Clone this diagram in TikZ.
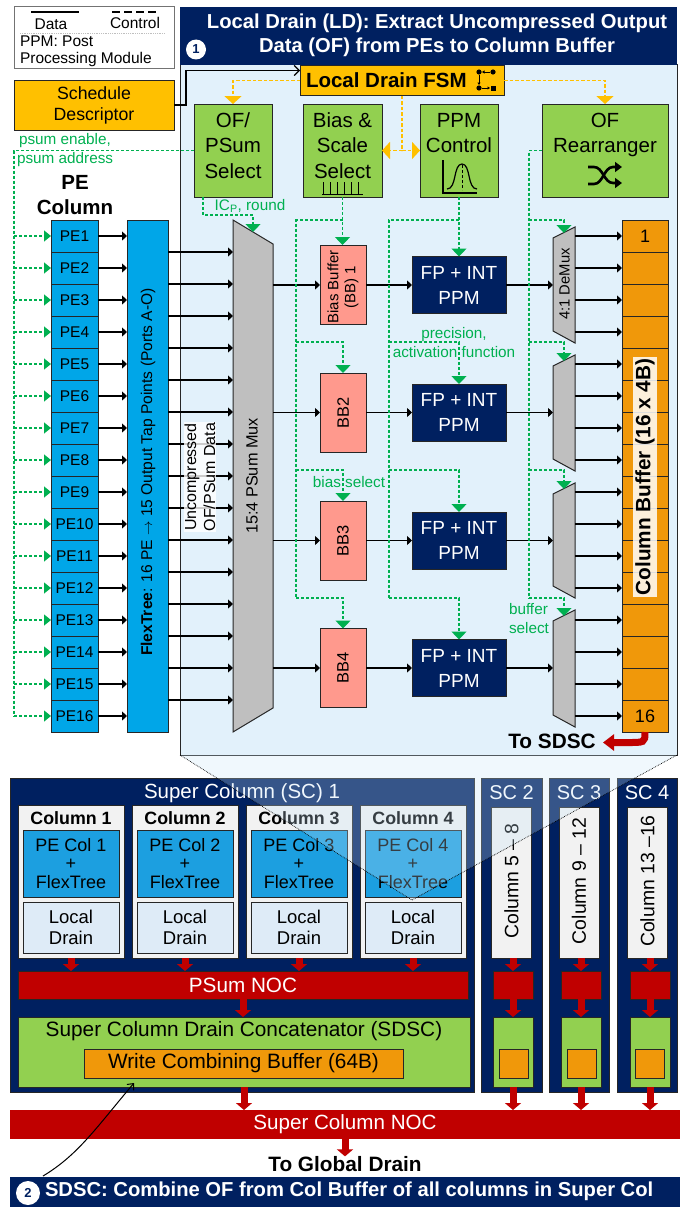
\documentclass[tikz,border=0pt]{standalone}
\usepackage{fontspec}
\setmainfont{Liberation Sans}
\setsansfont{Liberation Sans}
\usetikzlibrary{calc,arrows.meta}
\definecolor{navy}{HTML}{002060}
\definecolor{lsky}{HTML}{E2F1FB}
\definecolor{amber}{HTML}{FFC000}
\definecolor{lime}{HTML}{92D050}
\definecolor{ggrn}{HTML}{00B050}
\definecolor{pblue}{HTML}{00A6E8}
\definecolor{cblue}{HTML}{1C9FE0}
\definecolor{dblue}{HTML}{DEEBF7}
\definecolor{salmon}{HTML}{FF998D}
\definecolor{mgrey}{HTML}{BFBFBF}
\definecolor{lgrey}{HTML}{F2F2F2}
\definecolor{ornge}{HTML}{F0980A}
\definecolor{noc}{HTML}{C00000}
\definecolor{edge}{HTML}{262626}
\tikzset{
  base/.style   ={inner sep=0pt, outer sep=0pt, align=center, text=black},
  box/.style    ={base, draw=edge, line width=1pt},
  ctl/.style    ={box, fill=lime, font=\fontsize{20.5}{25.5}\selectfont},
  peb/.style    ={box, fill=pblue, minimum width=47pt, minimum height=32pt, font=\fontsize{15.5}{17}\selectfont},
  cell/.style   ={box, fill=ornge, minimum width=46pt, minimum height=32pt, font=\fontsize{18}{20}\selectfont},
  bbuf/.style   ={box, fill=salmon, minimum width=46pt, minimum height=79pt},
  ppm/.style    ={box, fill=navy, text=white, minimum width=94pt, minimum height=57pt, font=\fontsize{19}{25}\selectfont},
  shell/.style  ={base, fill=navy, draw=edge, line width=.6pt},
  colbg/.style  ={box, fill=lgrey, line width=.8pt},
  nocb/.style   ={base, fill=noc, draw=edge, line width=.5pt, text=white},
  grnb/.style   ={box, fill=lime},
  wcb/.style    ={box, fill=ornge},
  shape2/.style ={draw=edge, line width=1pt, fill=mgrey},
  rot/.style    ={base, rotate=90},
  ttl/.style    ={base, text=white, font=\fontsize{20.5}{22}\selectfont},
  num/.style    ={base, circle, fill=white, text=navy, font=\bfseries\fontsize{13}{15}\selectfont},
  lab/.style    ={base, text=ggrn, font=\fontsize{15.3}{19}\selectfont},
  data/.style   ={-{Triangle[length=5pt,width=9pt]}, line width=1.2pt, draw=black},
  ctrlg/.style  ={draw=ggrn, line width=1.3pt, dash pattern=on 3pt off 2pt},
  ctrlgt/.style ={ctrlg, -{Triangle[length=8pt,width=15pt]}},
  ctrlgh/.style ={ctrlg, -{Triangle[length=7pt,width=11pt]}},
  ctrly/.style  ={draw=amber, line width=1.8pt, dash pattern=on 3.5pt off 2pt},
  ctrlyt/.style ={ctrly, -{Triangle[length=8pt,width=17pt]}},
  redarr/.style ={draw=noc, line width=7pt, -{Triangle[length=7pt,width=16pt]}},
  link/.style   ={line width=1.2pt, -{Straight Barb[length=5pt,width=10pt]}},
  zoomln/.style ={draw=black, line width=.7pt, densely dotted},
}
\begin{document}
\begin{tikzpicture}[x=1pt,y=-1pt]
  \useasboundingbox (0,0) rectangle (694,1207);

  % ---- legend ----
  \node[base, draw=black!55, line width=1pt, minimum width=160pt, minimum height=62pt, fill=white] (legend) at (94,38) {};
  \draw[line width=1.2pt] (31,12) -- (79,12);
  \draw[line width=1.2pt, dash pattern=on 8pt off 4pt] (112,12) -- (156,12);
  \node[base, font=\fontsize{15.5}{17}\selectfont] (lgdata) at (51,24) {Data};
  \node[base, font=\fontsize{15.5}{17}\selectfont] (lgctrl) at (135,23) {Control};
  \draw[black!25, line width=.8pt, densely dotted] (20,33) -- (165,33);
  \node[base, anchor=west, align=left, font=\fontsize{15.5}{17}\selectfont] (lgppm) at (20,51) {PPM: Post\\Processing Module};

  % ---- local drain panel ----
  \node[base, draw=edge, line width=1pt, fill=lsky, minimum width=497pt, minimum height=690pt] (ldbox) at (428.5,410) {};
  \node[base, fill=navy, minimum width=497pt, minimum height=58pt] (ldhead) at (428.5,36) {};
  \node[base, text=white, font=\bfseries\fontsize{20.2}{24.5}\selectfont] (ldtext) at (437,35.5)
      {Local Drain (LD): Extract Uncompressed Output\\Data (OF) from PEs to Column Buffer};
  \node[num, minimum size=20pt] (num1) at (196,49.5) {1};

  % ---- control row ----
  \node[box, fill=amber, minimum width=160pt, minimum height=50pt, font=\fontsize{17.7}{21}\selectfont] (sched) at (94,105) {Schedule\\Descriptor};
  \node[box, fill=amber, minimum width=204pt, minimum height=30pt] (fsm) at (402,80.5) {};
  \node[base, anchor=west, font=\bfseries\fontsize{20.5}{22}\selectfont] (fsmtxt) at (306,80.5) {Local Drain FSM};
  \node[ctl, minimum width=78pt, minimum height=93pt, text depth=10pt] (ofsel) at (233,150.5) {OF/\\PSum\\Select};
  \node[ctl, minimum width=79pt, minimum height=93pt, text depth=10pt] (bias) at (342.5,150.5) {Bias \&\\Scale\\Select};
  \node[ctl, minimum width=78pt, minimum height=93pt, text depth=35pt] (ppmc) at (459,150.5) {PPM\\Control};
  \node[ctl, minimum width=126pt, minimum height=93pt, text depth=35pt] (rearr) at (605,150.5) {OF\\Rearranger};

  % fsm icon
  \foreach \x/\y in {479/72,493/72,479/88} \fill (\x,\y) circle (2.6);
  \fill (490.5,85.5) rectangle (496,91);
  \draw[line width=.7pt, -{Triangle[length=2.5pt,width=3pt]}] (490,72) -- (482,72);
  \draw[line width=.7pt, -{Triangle[length=2.5pt,width=3pt]}] (479,75) -- (479,85);
  \draw[line width=.7pt, -{Triangle[length=2.5pt,width=3pt]}] (482,88) -- (490,88);
  % comb
  \draw[line width=.8pt] (322,194) -- (363,194);
  \foreach \x in {323,330,337,344,351,358} \draw[line width=.8pt] (\x,182) -- (\x,194);
  % bell
  \draw[line width=2pt] (442.5,160) -- (442.5,193) -- (477,193);
  \draw[line width=1.2pt] (447,189) .. controls (457,189) and (453,164) .. (462,164) .. controls (471,164) and (467,189) .. (477,189);
  \draw[line width=.5pt, densely dashed] (462,165) -- (462,190);
  % shuffle
  \draw[line width=2.6pt, -{Triangle[length=7pt,width=10pt]}] (588,184) -- (594,184) .. controls (603,184) and (604,167) .. (613,167) -- (622,167);
  \draw[line width=2.6pt, -{Triangle[length=7pt,width=10pt]}] (588,167) -- (594,167) .. controls (603,167) and (604,183) .. (613,183) -- (622,183);

  % ---- pe column and flextree ----
  \node[base, font=\bfseries\fontsize{20.5}{25}\selectfont] (pecol) at (75,195.5) {PE\\Column};
  \foreach \i in {1,...,16} {
    \node[peb] (pe\i) at (74.5,{204+32*\i}) {PE\i};
  }
  \node[box, fill=pblue, minimum width=41pt, minimum height=512pt] (ft) at (147.5,476) {};
  \node[rot, font=\fontsize{15.6}{17}\selectfont] (fttxt) at (148,472)
      {\textbf{FlexTree}: 16 PE $\rightarrow$ 15 Output Tap Points (Ports A-O)};

  % ---- psum mux ----
  \node[base, minimum width=40pt, minimum height=512pt] (mux) at (253,476) {};
  \draw[shape2] (233,220) -- (273,244) -- (273,708) -- (233,732) -- cycle;
  \node[rot, font=\fontsize{16.3}{18}\selectfont] (muxtxt) at (252,476) {15:4 PSum Mux};
  \foreach \i in {1,...,16} \draw[data] (pe\i.east) -- (pe\i.east -| ft.west);
  \foreach \i in {1,...,15} \draw[data] (pe\i.south -| ft.east) -- (pe\i.south -| mux.west);
  \node[rot, fill=white, fill opacity=.8, text opacity=1, inner sep=1pt, font=\fontsize{16}{19}\selectfont] (unc) at (200,477) {Uncompressed\\OF/PSum Data};

  % ---- bias buffers, ppm ----
  \node[bbuf] (bb1) at (343,284.5) {};
  \node[rot, font=\fontsize{15}{17}\selectfont] (bb1t) at (343,287) {Bias Buffer\\(BB) 1};
  \foreach \n/\y in {2/412.5,3/540.5,4/668} {
    \node[bbuf, font=\fontsize{16.5}{18}\selectfont] (bb\n) at (343,\y) {\rotatebox{90}{BB\n}};
  }
  \foreach \n/\y in {1/285,2/412.5,3/540.5,4/668} {
    \node[ppm] (ppm\n) at (459,\y) {FP + INT\\PPM};
    \draw[data] (bb\n.east |- ppm\n.west) -- (ppm\n.west);
    \draw[data] (mux.east |- ppm\n.west) -- (bb\n.west |- ppm\n.west);
  }

  % ---- demux and column buffer ----
  \foreach \i in {1,...,16} {
    \node[cell] (cb\i) at (645,{204+32*\i}) {};
  }
  \node[base, font=\fontsize{18}{20}\selectfont] (cb1n) at (cb1) {1};
  \node[base, font=\fontsize{18}{20}\selectfont] (cb16n) at (cb16) {16};
  \foreach \n/\t/\b in {1/227/343,2/355/471,3/483/598,4/610/727} {
    \node[base, minimum width=22pt, minimum height={\b-\t}] (dm\n) at (564,{(\t+\b)/2}) {};
    \draw[shape2] (553,\t+11) -- (575,\t) -- (575,\b) -- (553,\b-12) -- cycle;
    \coordinate (dmt\n) at (564,\t+6);
    \draw[data] (ppm\n.east) -- (ppm\n.east -| dm\n.west);
  }
  \node[rot, font=\fontsize{14.8}{16}\selectfont] (dmtxt) at (564.5,284) {4:1 DeMux};
  \foreach \i [evaluate=\i as \d using int((\i+3)/4)] in {1,...,16}
    \draw[data] (cb\i.west -| dm\d.east) -- (cb\i.west);
  \node[rot, fill=white, fill opacity=.85, text opacity=1, inner sep=2pt, font=\bfseries\fontsize{20.8}{22}\selectfont] (cbtxt) at (645,477) {Column Buffer (16 x 4B)};
  \node[base, font=\bfseries\fontsize{20.8}{22}\selectfont] (tosdsc) at (552,741) {To SDSC};
  \coordinate (sdsctip) at (603,742.5);
  \draw[noc, line width=7pt, -{Triangle[length=11pt,width=16pt]}] (cb16.south) .. controls (645,743) and (645,742.5) .. (625,742.5) -- (sdsctip);

  % ---- amber control ----
  \draw[link] (sched.east) -- (186,105) |- ($(fsm.west)+(0,-10)$);
  \draw[ctrlyt] (fsm.west) -| (ofsel.north);
  \draw[ctrlyt] (fsm.east) -| (rearr.north);
  \draw[ctrly] (fsm.south) -- (fsm.south |- bias.east);
  \draw[ctrlyt] (fsm.south |- bias.east) -- (bias.east);
  \draw[ctrlyt] (fsm.south |- ppmc.west) -- (ppmc.west);

  % ---- green control ----
  \coordinate (psumbus) at (14,150.5);
  \draw[ctrlg] (ofsel.west) -- (psumbus) -- (pe16.west -| psumbus);
  \foreach \i in {1,...,16} \draw[ctrlgh] (pe\i.west -| psumbus) -- (pe\i.west);
  \coordinate (muxtip) at (253,232);
  \draw[ctrlgt] (203,197) |- (253,215) -- (muxtip);
  \coordinate (bbrail) at (296,220);
  \coordinate (pprail) at (389,220);
  \coordinate (dmrail) at (529,220);
  \draw[ctrlgt] (bias.south) -- (bias.south |- bb1.north);
  \draw[ctrlg] (bias.south |- bbrail) -- (bbrail) -- (296,598);
  \draw[ctrlgt] (ppmc.south) -- (ppm1.north);
  \draw[ctrlg] (ppmc.south |- pprail) -- (pprail) -- (389,598);
  \draw[ctrlg] (rearr.west) -- (529,150.5) -- (529,598);
  \draw[ctrlgt] (dmrail) -| (dmt1);
  \foreach \n/\y in {2/342,3/470,4/598} {
    \draw[ctrlgt] (296,\y) -| (bb\n.north);
    \draw[ctrlgt] (389,\y) -| (ppm\n.north);
    \draw[ctrlgt] (529,\y) -| (dmt\n);
  }
  \node[lab, anchor=west, align=left] (psumlab) at (17,150.5) {\hspace{2pt}psum enable,\\psum address};
  \node[lab] (icplab) at (250,206) {IC\textsubscript{P}, round};
  \node[lab] (biaslab) at (349,482) {bias select};
  \node[lab] (preclab) at (454,342.5) {precision,\\activation function};
  \node[lab, anchor=west, align=left] (buflab) at (509,618.5) {buffer\\select};

  % ---- super column 1 ----
  \node[shell, minimum width=464pt, minimum height=314pt] (sc1) at (242.5,935) {};
  \node[ttl] (sc1t) at (242,793) {Super Column (SC) 1};
  \foreach \c/\x in {1/71,2/185,3/299,4/413} {
    \node[colbg, minimum width=106pt, minimum height=153pt] (col\c) at (\x,881.5) {};
    \node[base, font=\bfseries\fontsize{17.8}{20}\selectfont] (colt\c) at (\x,818) {Column \c};
    \node[box, fill=cblue, minimum width=96pt, minimum height=67pt, font=\fontsize{18}{18.5}\selectfont] (pec\c) at (\x,863.5) {PE Col \c\\+\\FlexTree};
    \node[box, fill=dblue, minimum width=96pt, minimum height=51pt, font=\fontsize{18.5}{21}\selectfont] (ldr\c) at (\x,927.5) {Local\\Drain};
  }
  \node[nocb, minimum width=450pt, minimum height=28pt, font=\fontsize{20.7}{22}\selectfont] (psum) at (243,985) {PSum NOC};
  \foreach \c in {1,...,4} \draw[redarr] (col\c.south) -- (col\c.south |- psum.north);
  \node[grnb, minimum width=452pt, minimum height=70pt] (sdsc) at (244,1052) {};
  \node[base, font=\fontsize{20.8}{22}\selectfont] (sdsct) at (244,1031) {Super Column Drain Concatenator (SDSC)};
  \node[wcb, minimum width=319pt, minimum height=29pt, font=\fontsize{20.8}{22}\selectfont] (wcb1) at (243.5,1063.5) {Write Combining Buffer (64B)};
  \draw[redarr] (psum.south) -- (sdsc.north -| psum.south);

  % ---- super columns 2 to 4 ----
  \node[base, fill=noc, minimum width=670pt, minimum height=29pt, text=white, font=\fontsize{20.6}{22}\selectfont] (scnoc) at (345,1124.5) {Super Column NOC};
  \foreach \s/\lo/\hi/\x/\bx/\gx/\wx/\txt in
     {2/481/542/511.5/513/513/513.5/{Column 5 -- 8},
      3/549/609/579/581/581/582/{Column 9 -- 12},
      4/617/677/647.5/650/650/650/{Column 13 --16}} {
    \node[shell, minimum width={\hi-\lo}, minimum height=314pt] (sc\s) at ({(\lo+\hi)/2},935) {};
    \node[ttl, font=\fontsize{20}{22}\selectfont] (sc\s t) at ({(\lo+\hi)/2},793) {SC \s};
    \node[colbg, minimum width=40pt, minimum height=151pt] (col\s) at (\x,882.5) {};
    \node[rot, font=\fontsize{19.4}{21}\selectfont] (col\s t) at (\x,881) {\txt};
    \node[nocb, minimum width=40pt, minimum height=28pt] (noc\s) at (\bx,985) {};
    \node[grnb, minimum width=40pt, minimum height=70pt] (grn\s) at (\gx,1052) {};
    \node[wcb, minimum width=29pt, minimum height=29pt] (wcb\s) at (\wx,1063.5) {};
    \draw[redarr] (noc\s.north |- col\s.south) -- (noc\s.north);
    \draw[redarr] (noc\s.south) -- (grn\s.north);
    \draw[redarr] (grn\s.south) -- (grn\s.south |- scnoc.north);
  }
  \draw[redarr] (sdsc.south) -- (sdsc.south |- scnoc.north);

  % ---- to global drain, banner ----
  \node[base, font=\bfseries\fontsize{20.8}{22}\selectfont] (togd) at (345,1164) {To Global Drain};
  \draw[redarr] (scnoc.south -| togd.north) -- (togd.north);
  \node[base, fill=navy, minimum width=670pt, minimum height=30pt] (sdbann) at (345,1192) {};
  \node[base, anchor=west, text=white, font=\bfseries\fontsize{20.2}{22}\selectfont] (sdtxt) at (45,1191) {SDSC: Combine OF from Col Buffer of all columns in Super Col};
  \node[num, minimum size=24pt] (num2) at (28,1193) {2};
  \coordinate (call2) at (43,1176);
  \coordinate (calltip) at (134,1083);
  \draw[line width=1pt, -{Straight Barb[length=5pt,width=9pt]}] (call2) .. controls (78,1155) and (96,1128) .. (calltip);

  % ---- zoom wedge ----
  \coordinate (zoomtip) at (412,900);
  \fill[fill={rgb,255:red,200;green,229;blue,248}, fill opacity=.27] (ldbox.south west) -- (ldbox.south east) -- (zoomtip) -- cycle;
  \draw[zoomln] (ldbox.south west) -- (zoomtip) -- (ldbox.south east);

\end{tikzpicture}
\end{document}
